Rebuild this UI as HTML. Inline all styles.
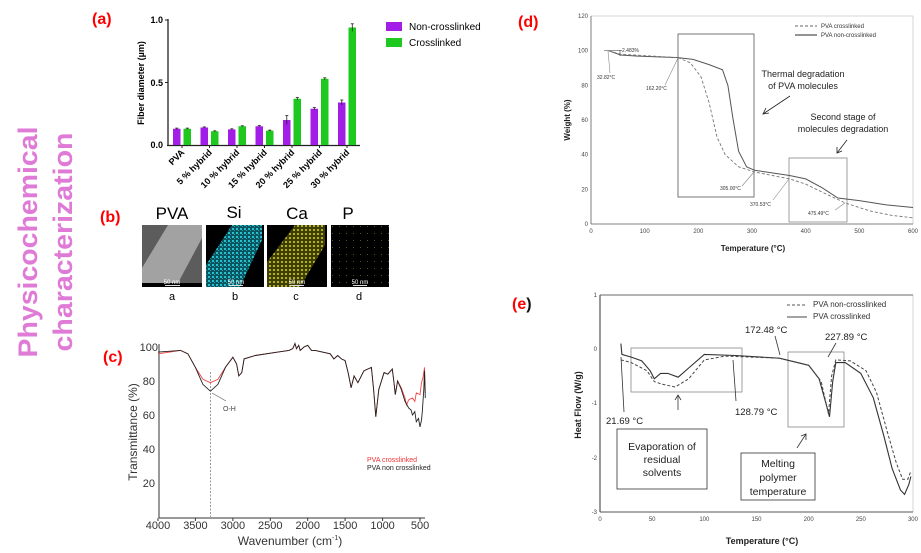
<!DOCTYPE html>
<html><head><meta charset="utf-8"><style>
html,body{margin:0;padding:0;background:#fff;width:921px;height:553px;overflow:hidden}
svg{display:block}
text{font-family:"Liberation Sans",Arial,sans-serif}
</style></head><body>
<svg id="s" width="921" height="553" viewBox="0 0 921 553" xmlns="http://www.w3.org/2000/svg">
<rect width="921" height="553" fill="#fff"/>
<text x="37" y="242" transform="rotate(-90 37 242)" text-anchor="middle" font-size="27" font-weight="bold" fill="#df7ad6" textLength="231" lengthAdjust="spacingAndGlyphs">Physicochemical</text>
<text x="72" y="242" transform="rotate(-90 72 242)" text-anchor="middle" font-size="27" font-weight="bold" fill="#df7ad6" textLength="219" lengthAdjust="spacingAndGlyphs">characterization</text>
<text x="92" y="24" font-size="16" font-weight="bold" fill="#f00">(a)</text>
<text x="100" y="222" font-size="16" font-weight="bold" fill="#f00">(b)</text>
<text x="103" y="362" font-size="16" font-weight="bold" fill="#f00">(c)</text>
<text x="518" y="27" font-size="16" font-weight="bold" fill="#f00">(d)</text>
<text x="512" y="309" font-size="16" font-weight="bold" fill="#f00">(e<tspan fill="#111">)</tspan></text>

<g id="pa">
<line x1="168" y1="19" x2="168" y2="146" stroke="#222" stroke-width="1.3"/>
<line x1="167" y1="145.5" x2="360" y2="145.5" stroke="#222" stroke-width="1.3"/>
<line x1="165" y1="20" x2="168" y2="20" stroke="#222"/><line x1="165" y1="82.5" x2="168" y2="82.5" stroke="#222"/>
<text x="163" y="23" font-size="9" font-weight="bold" text-anchor="end">1.0</text>
<text x="163" y="86" font-size="9" font-weight="bold" text-anchor="end">0.5</text>
<text x="163" y="148" font-size="9" font-weight="bold" text-anchor="end">0.0</text>
<text x="144" y="83" transform="rotate(-90 144 83)" font-size="9" font-weight="bold" text-anchor="middle">Fiber diameter (µm)</text>
<rect x="386" y="22" width="16" height="9" fill="#a21ee6"/>
<rect x="386" y="38" width="16" height="9" fill="#1ec81e"/>
<text x="409" y="30" font-size="10">Non-crosslinked</text>
<text x="409" y="46" font-size="10">Crosslinked</text>
</g>

<defs>
<pattern id="spc" width="4" height="4" patternUnits="userSpaceOnUse"><rect width="4" height="4" fill="#0a5560"/><rect x="0" y="0" width="2" height="2" fill="#27c0cc"/><rect x="2" y="2" width="1" height="1" fill="#1aa0aa"/></pattern>
<pattern id="spy" width="4" height="4" patternUnits="userSpaceOnUse"><rect width="4" height="4" fill="#3e3e05"/><rect x="1" y="1" width="2" height="2" fill="#b0b020"/></pattern>
<pattern id="spp" width="7" height="7" patternUnits="userSpaceOnUse"><rect width="7" height="7" fill="#000"/><rect x="3" y="2" width="1" height="1" fill="#555520"/></pattern>
</defs>
<text x="172" y="219" font-size="17" text-anchor="middle">PVA</text>
<text x="234" y="218" font-size="17" text-anchor="middle">Si</text>
<text x="297" y="219" font-size="17" text-anchor="middle">Ca</text>
<text x="348" y="219" font-size="17" text-anchor="middle">P</text>
<rect x="142" y="225" width="60" height="62" fill="#5c5c5c"/>
<polygon points="168,225 202,225 202,238 178,283 142,283 142,268" fill="#a2a2a2"/>
<rect x="142" y="283" width="60" height="4" fill="#000"/>
<rect x="206" y="225" width="58" height="62" fill="#000"/>
<polygon points="232,225 262,225 262,240 240,287 206,287 206,265" fill="url(#spc)"/>
<rect x="267" y="225" width="60" height="62" fill="#000"/>
<polygon points="295,225 325,225 325,245 300,287 267,287 267,262" fill="url(#spy)"/>
<rect x="331" y="225" width="58" height="62" fill="url(#spp)"/>
<g font-size="6" fill="#fff" text-anchor="middle">
<text x="172" y="284">50 nm</text><text x="236" y="284">50 nm</text><text x="297" y="284">50 nm</text><text x="360" y="284">50 nm</text></g>
<g stroke="#ddd" stroke-width="1"><line x1="165" y1="285.5" x2="180" y2="285.5"/><line x1="229" y1="285.5" x2="243" y2="285.5"/><line x1="290" y1="285.5" x2="304" y2="285.5"/><line x1="353" y1="285.5" x2="367" y2="285.5"/></g>
<g font-size="11" text-anchor="middle"><text x="172" y="300">a</text><text x="235" y="300">b</text><text x="296" y="300">c</text><text x="359" y="300">d</text></g>

<line x1="159" y1="344" x2="159" y2="518" stroke="#333"/>
<line x1="159" y1="518" x2="425" y2="518" stroke="#333"/>
<g font-size="11" text-anchor="end" fill="#333">
<text x="158" y="351">100</text><text x="155" y="385">80</text><text x="155" y="419">60</text><text x="155" y="453">40</text><text x="155" y="487">20</text></g>
<g font-size="11" text-anchor="middle" fill="#333" id="cx"></g>
<text x="290" y="545" font-size="12" text-anchor="middle" fill="#333">Wavenumber (cm<tspan font-size="7" dy="-5">-1</tspan><tspan dy="5">)</tspan></text>
<text x="137" y="432" transform="rotate(-90 137 432)" font-size="12" text-anchor="middle" fill="#333">Transmittance (%)</text>
<line x1="210.5" y1="372" x2="210.5" y2="517" stroke="#999" stroke-dasharray="2,1.5"/>
<line x1="212" y1="393" x2="226" y2="401" stroke="#666" stroke-width="0.7"/>
<text x="223" y="411" font-size="7" fill="#444">O-H</text>
<text x="367" y="462" font-size="7" fill="#ee3333">PVA crosslinked</text>
<text x="367" y="470" font-size="7" fill="#222">PVA non crosslinked</text>

<rect x="591" y="16" width="322" height="208" fill="none" stroke="#bbb" stroke-width="0.6"/>
<line x1="591" y1="16" x2="591" y2="224" stroke="#666" stroke-width="0.8"/>
<line x1="591" y1="224" x2="913" y2="224" stroke="#666" stroke-width="0.8"/>
<g font-size="6" fill="#444" text-anchor="end" id="dy"></g>
<g font-size="6" fill="#444" text-anchor="middle" id="dx"></g>
<text x="753" y="251" font-size="8" font-weight="bold" text-anchor="middle" fill="#222">Temperature (°C)</text>
<text x="570" y="120" transform="rotate(-90 570 120)" font-size="8" font-weight="bold" text-anchor="middle" fill="#222">Weight (%)</text>
<line x1="795" y1="26" x2="817" y2="26" stroke="#666" stroke-dasharray="3,2"/>
<line x1="795" y1="35" x2="817" y2="35" stroke="#555" stroke-width="1.2"/>
<text x="821" y="28" font-size="6" fill="#333">PVA crosslinked</text>
<text x="821" y="37" font-size="6" fill="#333">PVA non-crosslinked</text>
<rect x="678" y="34" width="76" height="163" fill="none" stroke="#555" stroke-width="0.8"/>
<rect x="789" y="158" width="58" height="64" fill="none" stroke="#888" stroke-width="0.8"/>
<text x="803" y="77" font-size="9" text-anchor="middle" fill="#222">Thermal degradation</text>
<text x="803" y="89" font-size="9" text-anchor="middle" fill="#222">of PVA molecules</text>
<text x="843" y="120" font-size="9" text-anchor="middle" fill="#222">Second stage of</text>
<text x="843" y="132" font-size="9" text-anchor="middle" fill="#222">molecules degradation</text>
<g stroke="#222" stroke-width="0.8" fill="none">
<line x1="790" y1="96" x2="763" y2="114"/><polyline points="766,108 763,114 769,113"/>
<line x1="847" y1="140" x2="837" y2="153"/><polyline points="837,147 837,153 842,151"/></g>
<g font-size="5" fill="#333">
<text x="622" y="52">2.483%</text><text x="597" y="79">32.82°C</text><text x="646" y="90">162.20°C</text>
<text x="720" y="190">305.00°C</text><text x="750" y="206">370.53°C</text><text x="808" y="215">475.49°C</text></g>
<g stroke="#888" stroke-width="0.6"><line x1="608" y1="51" x2="610" y2="73"/><line x1="678" y1="58" x2="665" y2="85"/><line x1="754" y1="172" x2="742" y2="186"/><line x1="789" y1="179" x2="773" y2="200"/><line x1="845" y1="203" x2="835" y2="210"/>
<line x1="604" y1="50.5" x2="622" y2="50.5" stroke="#333"/><line x1="620" y1="50" x2="620" y2="56" stroke="#333"/></g>

<rect x="600" y="295" width="313" height="217" fill="none" stroke="#bbb" stroke-width="0.6"/>
<line x1="600" y1="295" x2="913" y2="295" stroke="#888" stroke-width="1.2"/>
<line x1="600" y1="295" x2="600" y2="512" stroke="#555" stroke-width="1.2"/>
<line x1="600" y1="512" x2="913" y2="512" stroke="#555" stroke-width="0.9"/>
<g font-size="6" fill="#444" text-anchor="end"><text x="597" y="297">1</text><text x="597" y="351">0</text><text x="597" y="405">-1</text><text x="597" y="460">-2</text><text x="597" y="514">-3</text></g>
<g font-size="6" fill="#444" text-anchor="middle" id="ex"></g>
<text x="762" y="544" font-size="9" font-weight="bold" text-anchor="middle" fill="#222">Temperature (°C)</text>
<text x="581" y="405" transform="rotate(-90 581 405)" font-size="9" font-weight="bold" text-anchor="middle" fill="#222">Heat Flow (W/g)</text>
<line x1="787" y1="305" x2="807" y2="305" stroke="#555" stroke-dasharray="3,2"/>
<line x1="787" y1="317" x2="807" y2="317" stroke="#444"/>
<text x="813" y="307" font-size="8" fill="#333">PVA non-crosslinked</text>
<text x="813" y="319" font-size="8" fill="#333">PVA crosslinked</text>
<rect x="631" y="348" width="111" height="44" fill="none" stroke="#888" stroke-width="0.8"/>
<rect x="788" y="352" width="56" height="75" fill="none" stroke="#888" stroke-width="0.8"/>
<rect x="617" y="429" width="90" height="60" fill="none" stroke="#333" stroke-width="0.8"/>
<rect x="741" y="453" width="74" height="47" fill="none" stroke="#333" stroke-width="0.8"/>
<g font-size="10.5" text-anchor="middle" fill="#222">
<text x="662" y="450">Evaporation of</text><text x="662" y="463">residual</text><text x="662" y="476">solvents</text>
<text x="778" y="467">Melting</text><text x="778" y="481">polymer</text><text x="778" y="495">temperature</text></g>
<g font-size="9.5" fill="#222">
<text x="606" y="424">21.69 °C</text><text x="735" y="415">128.79 °C</text><text x="745" y="333">172.48 °C</text><text x="825" y="340">227.89 °C</text></g>
<g stroke="#333" stroke-width="0.8" fill="none">
<line x1="624" y1="412" x2="621" y2="357"/><line x1="678" y1="410" x2="678" y2="395"/><polyline points="675,400 678,395 681,400"/>
<line x1="736" y1="401" x2="733" y2="360"/><line x1="775" y1="336" x2="780" y2="355"/><line x1="836" y1="343" x2="828" y2="357"/>
<line x1="797" y1="448" x2="806" y2="434"/><polyline points="801,436 806,434 806,440"/></g>

<g id="curves"></g>
</svg>
<script>
var NS="http://www.w3.org/2000/svg",S=document.getElementById('curves');
function pl(pts,attrs){var e=document.createElementNS(NS,'polyline');e.setAttribute('points',pts.map(function(p){return p[0].toFixed(1)+','+p[1].toFixed(1)}).join(' '));e.setAttribute('fill','none');for(var k in attrs)e.setAttribute(k,attrs[k]);S.appendChild(e);}
function rc(x,y,w,h,f){var e=document.createElementNS(NS,'rect');e.setAttribute('x',x);e.setAttribute('y',y);e.setAttribute('width',w);e.setAttribute('height',h);e.setAttribute('fill',f);S.appendChild(e);}
function tx(g,x,y,t){var e=document.createElementNS(NS,'text');e.setAttribute('x',x);e.setAttribute('y',y);e.textContent=t;document.getElementById(g).appendChild(e);}
var nc=[.13,.14,.125,.15,.2,.29,.34],cl=[.13,.11,.15,.115,.37,.53,.94],ne=[.005,.005,.005,.006,.035,.01,.02],ce=[.005,.004,.004,.004,.01,.008,.03];
var labs=["PVA","5 % hybrid","10 % hybrid","15 % hybrid","20 % hybrid","25 % hybrid","30 % hybrid"];
for(var i=0;i<7;i++){var c=182+i*27.5;
rc(c-9,145-nc[i]*125,7.5,nc[i]*125,'#a21ee6');rc(c+1.5,145-cl[i]*125,7.5,cl[i]*125,'#1ec81e');
[[c-5.25,nc[i],ne[i]],[c+5.25,cl[i],ce[i]]].forEach(function(b){pl([[b[0],145-(b[1]+b[2])*125],[b[0],145-(b[1]-b[2])*125]],{stroke:'#222','stroke-width':0.8});pl([[b[0]-1.5,145-(b[1]+b[2])*125],[b[0]+1.5,145-(b[1]+b[2])*125]],{stroke:'#222','stroke-width':0.8});});
pl([[c,145],[c,148]],{stroke:'#222'});
var e=document.createElementNS(NS,'text');e.setAttribute('x',c+3);e.setAttribute('y',153);e.setAttribute('text-anchor','end');e.setAttribute('font-size','9');e.setAttribute('font-weight','bold');e.setAttribute('transform','rotate(-45 '+(c+3)+' 153)');e.textContent=labs[i];S.appendChild(e);}
function cm(a){return a.map(function(p){return[158+(4000-p[0])*0.07486,517-p[1]*1.7]})}
var base=[[4000,97],[3700,98],[3600,96],[3500,88],[3400,78],[3300,74],[3200,78],[3100,88],[3000,94],[2950,90],[2920,83],[2880,85],[2850,93],[2700,95],[2400,97],[2250,98],[2200,99],[2170,102],[2150,99],[2120,101],[2100,98],[2050,100],[2000,101],[1950,98],[1900,98],[1700,96],[1650,93],[1600,95],[1550,93],[1500,92],[1460,85],[1420,76],[1380,83],[1330,79],[1250,86],[1150,88],[1120,75],[1090,59],[1050,75],[980,85],[930,84],[870,87],[850,80],[830,72],[800,80]];
var blk=base.concat([[750,75],[700,68],[650,64],[620,63],[600,60],[570,62],[550,56],[520,58],[500,53],[480,57],[470,62],[450,75],[440,86],[430,70]]);
var red=base.map(function(p){var y=p[1];if(p[0]<=3600&&p[0]>=3100){y=y+(p[0]>=3200&&p[0]<=3400?(p[0]==3300?5:3):0)}if(p[0]==4000)y=96;return[p[0],y]}).concat([[750,76],[700,70],[680,66],[650,69],[600,70],[570,68],[550,73],[500,72],[480,79],[460,82],[440,88],[430,73]]);
pl(cm(red),{stroke:'#f04848','stroke-width':0.9});pl(cm(blk),{stroke:'#222','stroke-width':0.9});
[4000,3500,3000,2500,2000,1500,1000,500].forEach(function(w){var x=158+(4000-w)*0.07486;tx('cx',x,529,w);pl([[x,518],[x,521]],{stroke:'#333'});});
function dm(a){return a.map(function(p){return[591+p[0]*0.5367,224-p[1]*1.733]})}
pl(dm([[33,100],[55,97.5],[80,97],[162,96],[190,95],[220,92],[245,89],[255,80],[265,60],[275,42],[290,33],[305,31],[370,28],[400,26],[430,21],[460,15],[500,13.5],[550,11],[600,9.5]]),{stroke:'#555','stroke-width':1});
pl(dm([[33,100],[55,98],[162,96],[185,93],[205,85],[220,70],[235,50],[250,40],[275,33],[305,30],[370,26],[400,23],[440,17],[475,12],[520,7.5],[560,5],[600,3.5]]),{stroke:'#777','stroke-width':0.9,'stroke-dasharray':'3,2'});
for(var v=0;v<=120;v+=20){tx('dy',588,224-v*1.733+2,v);}
for(var t=0;t<=600;t+=100){tx('dx',591+t*0.5367,233,t);}
function em(a){return a.map(function(p){return[600+p[0]*1.0433,349-p[1]*54.25]})}
pl(em([[20,0.1],[21,-0.1],[30,-0.15],[40,-0.22],[48,-0.4],[52,-0.55],[58,-0.45],[65,-0.45],[75,-0.52],[85,-0.35],[100,-0.1],[130,-0.12],[172,-0.17],[200,-0.3],[210,-0.55],[218,-1.1],[220,-1.25],[223,-0.6],[226,-0.25],[235,-0.25],[250,-0.45],[262,-0.9],[272,-1.6],[280,-2.2],[288,-2.6],[292,-2.68],[296,-2.5],[298,-2.35]]),{stroke:'#333','stroke-width':1.1});
pl(em([[20,-0.2],[30,-0.25],[45,-0.4],[52,-0.6],[60,-0.65],[72,-0.7],[85,-0.55],[100,-0.2],[120,-0.13],[172,-0.17],[200,-0.3],[212,-0.6],[219,-1.2],[222,-0.5],[226,-0.2],[240,-0.22],[255,-0.4],[265,-0.8],[275,-1.5],[284,-2.1],[290,-2.4],[295,-2.4],[298,-2.25]]),{stroke:'#444','stroke-width':1,'stroke-dasharray':'3,2'});
for(var t=0;t<=300;t+=50){tx('ex',600+t*1.0433,521,t);}
</script>
</body></html>
